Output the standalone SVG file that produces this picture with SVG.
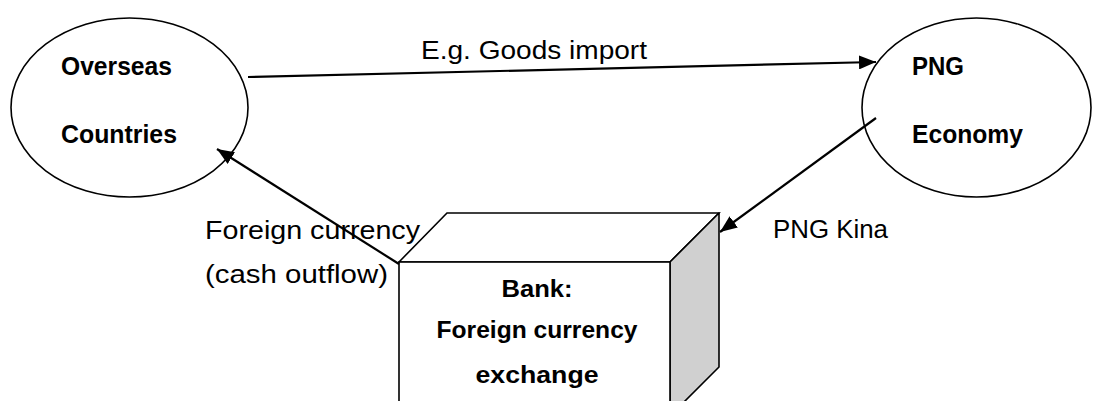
<svg xmlns="http://www.w3.org/2000/svg" width="1093" height="401" viewBox="0 0 1093 401">
<style>
.node{fill:#fff;stroke:#000;stroke-width:1.6}
.side{fill:#d0d0d0;stroke:#000;stroke-width:1.6;stroke-linejoin:round}
.conn{fill:none;stroke:#000;stroke-width:2.2;marker-end:url(#ah)}
.lbl{font-family:"Liberation Sans",Arial,sans-serif;font-size:25px;fill:#000}
.b{font-weight:bold}
.bx{font-family:"Liberation Sans",Arial,sans-serif;font-size:23px;font-weight:bold;fill:#000;text-anchor:middle}
</style>
<defs>
<marker id="ah" markerWidth="18" markerHeight="14" refX="17" refY="7" orient="auto" markerUnits="userSpaceOnUse">
<path d="M0,0 L17,7 L0,14 z" fill="#000"/>
</marker>
</defs>
<g id="overseas">
<ellipse class="node" cx="129.5" cy="107.5" rx="118.5" ry="89.5"/>
<text class="lbl b" x="61" y="75" textLength="111" lengthAdjust="spacingAndGlyphs">Overseas</text>
<text class="lbl b" x="61" y="143" textLength="116" lengthAdjust="spacingAndGlyphs">Countries</text>
</g>
<g id="png">
<ellipse class="node" cx="976.5" cy="107.5" rx="114.5" ry="89.5"/>
<text class="lbl b" x="912" y="75" textLength="52" lengthAdjust="spacingAndGlyphs">PNG</text>
<text class="lbl b" x="912" y="143" textLength="111" lengthAdjust="spacingAndGlyphs">Economy</text>
</g>
<g id="bank">
<polygon class="node" points="399,262 447,213 719,213 670,262"/>
<polygon class="side" points="670,262 719,213 719,367 670,416"/>
<rect class="node" x="399" y="262" width="271" height="154"/>
<text class="bx" x="537" y="297" textLength="71" lengthAdjust="spacingAndGlyphs">Bank:</text>
<text class="bx" x="537" y="338" textLength="201" lengthAdjust="spacingAndGlyphs">Foreign currency</text>
<text class="bx" x="537" y="383" textLength="123" lengthAdjust="spacingAndGlyphs">exchange</text>
</g>
<g id="connectors">
<line class="conn" x1="248" y1="77" x2="876" y2="62"/>
<line class="conn" x1="876" y1="118" x2="720" y2="232"/>
<line class="conn" x1="399" y1="264" x2="217" y2="149"/>
<text class="lbl" x="421" y="59" textLength="226" lengthAdjust="spacingAndGlyphs">E.g. Goods import</text>
<text class="lbl" x="773" y="238" textLength="115" lengthAdjust="spacingAndGlyphs">PNG Kina</text>
<text class="lbl" x="205" y="239" textLength="215" lengthAdjust="spacingAndGlyphs">Foreign currency</text>
<text class="lbl" x="205" y="283" textLength="183" lengthAdjust="spacingAndGlyphs">(cash outflow)</text>
</g>
</svg>
